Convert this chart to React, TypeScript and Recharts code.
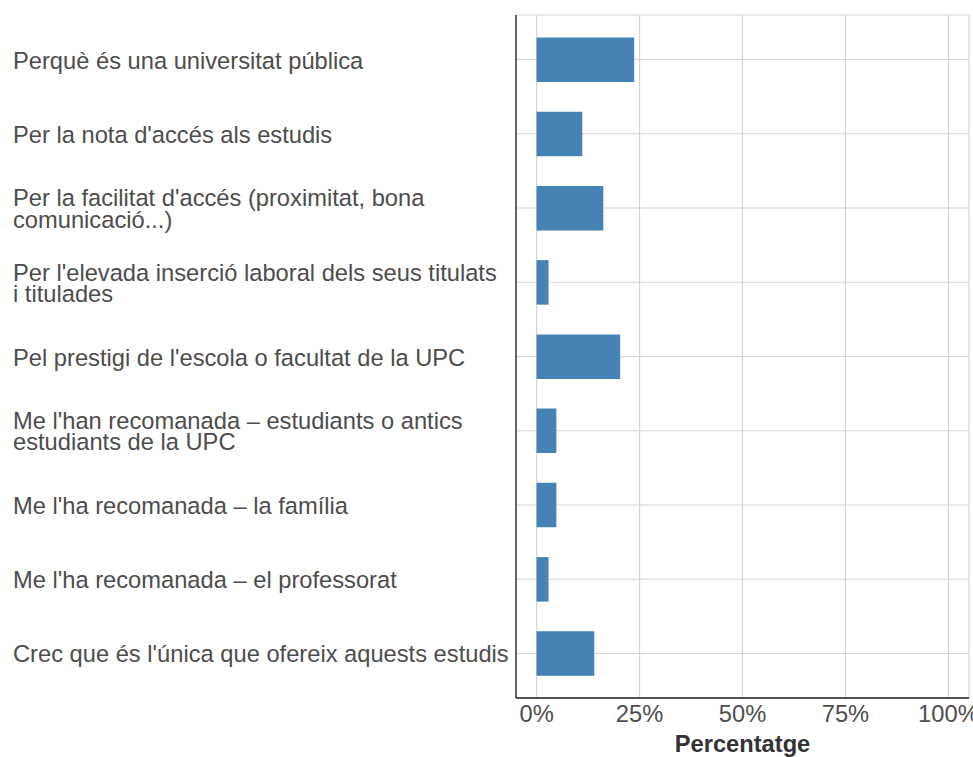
import { Bar, BarChart, CartesianGrid, XAxis, YAxis } from "recharts";

// Motius d'elecció de la UPC (percentatge de respostes)
const motius = [
  "Perquè és una universitat pública",
  "Per la nota d'accés als estudis",
  "Per la facilitat d'accés (proximitat, bona\ncomunicació...)",
  "Per l'elevada inserció laboral dels seus titulats\ni titulades",
  "Pel prestigi de l'escola o facultat de la UPC",
  "Me l'han recomanada – estudiants o antics\nestudiants de la UPC",
  "Me l'ha recomanada – la família",
  "Me l'ha recomanada – el professorat",
  "Crec que és l'única que ofereix aquests estudis",
];
const percentatges = [23.7, 11.1, 16.2, 2.9, 20.3, 4.8, 4.8, 2.9, 14.0];
const ticksPct = [0, 25, 50, 75, 100];

const data = motius.map((label, i) => ({ label, pct: percentatges[i] }));

const FONT = "'Liberation Sans', Arial, sans-serif";
const FS = 23.7;
const LINE_H = 21.5;

function CategoryTick({ y, payload }: any) {
  const lines = String(payload.value).split("\n");
  const first = y + 9 - ((lines.length - 1) * LINE_H) / 2;
  return (
    <text x={13} y={first} textAnchor="start" fontSize={FS} fill="#4d4d4d" fontFamily={FONT}>
      {lines.map((l, i) => (
        <tspan key={i} x={13} y={first + i * LINE_H}>
          {l}
        </tspan>
      ))}
    </text>
  );
}

function PctTick({ x, y, payload }: any) {
  return (
    <text x={x} y={y + 23.7} textAnchor="middle" fontSize={FS} fill="#4d4d4d" fontFamily={FONT}>
      {payload.value}%
    </text>
  );
}

export default function App() {
  return (
    <div style={{ position: "absolute", left: 0, top: 0, background: "#fff", fontFamily: FONT }}>
      <BarChart
        width={973}
        height={757}
        data={data}
        layout="vertical"
        margin={{ top: 15, right: 4, bottom: 0, left: 0 }}
      >
        <CartesianGrid stroke="#d4d4d4" strokeWidth={1.2} />
        <XAxis
          type="number"
          domain={[-5, 105]}
          ticks={ticksPct}
          allowDataOverflow
          height={59}
          tickLine={false}
          tickSize={0}
          tickMargin={0}
          axisLine={{ stroke: "#222", strokeWidth: 1.3 }}
          tick={<PctTick />}
          label={({ viewBox }: any) => (
            <text
              x={viewBox.x + viewBox.width / 2}
              y={viewBox.y + 54.3}
              textAnchor="middle"
              fontSize={FS}
              fontWeight="bold"
              fill="#333"
              fontFamily={FONT}
            >
              Percentatge
            </text>
          )}
        />
        <YAxis
          type="category"
          dataKey="label"
          width={516}
          padding={{ top: 7.4, bottom: 7.4 }}
          tickLine={false}
          tickSize={0}
          axisLine={{ stroke: "#222", strokeWidth: 1.3 }}
          tick={<CategoryTick />}
          interval={0}
        />
        <Bar dataKey="pct" fill="#4682b4" barSize={44.5} isAnimationActive={false} />
      </BarChart>
    </div>
  );
}
